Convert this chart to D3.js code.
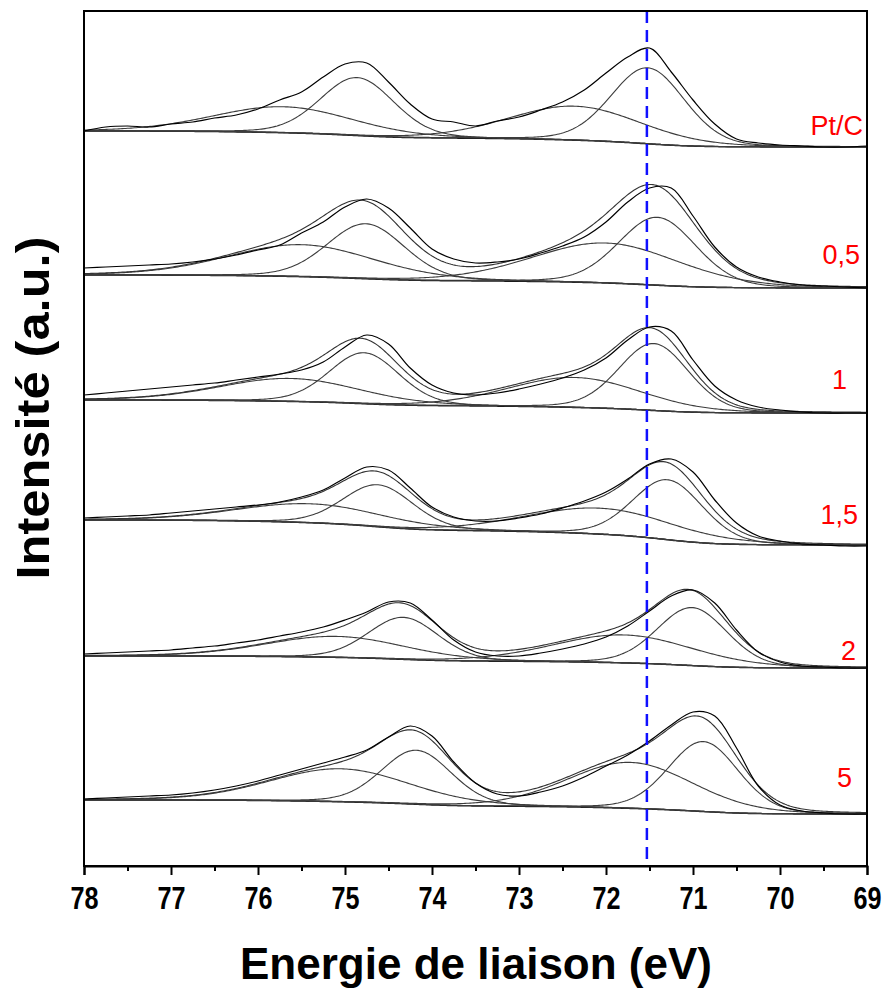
<!DOCTYPE html>
<html><head><meta charset="utf-8">
<script src="https://cdn.jsdelivr.net/npm/d3@7"></script>
<style>body{margin:0;background:#fff}svg{display:block}</style>
</head><body>
<svg id="chart" width="889" height="989"></svg>
<script>
// ---------------- DATA ----------------
const samples = ["Pt/C", "0,5", "1", "1,5", "2", "5"];
// measured spectra, binding energies 78 -> 69 eV every 0.25 eV (a.u., stacked)
const energies = d3.range(0, 37).map(k => 78 - k * 0.25);
const raw_PtC = [735,739,740,739,742,744,748,751,757,766,774,789,802,803,784,762,747,744,740,745,749,756,764,776,793,809,818,794,766,742,727,723,721,720,719,719,720];
const raw_05  = [598,599,600,601,602,604,607,611,616,621,633,644,659,667,658,638,617,607,603,604,607,613,620,629,644,664,678,678,650,619,599,589,584,581,580,579,578];
const raw_1   = [471,473,475,477,479,481,483,486,489,492,496,504,519,531,522,498,481,473,471,473,477,482,488,496,508,526,539,535,506,480,466,459,456,454,453,453,453];
const raw_15  = [348,349,350,351,353,355,357,359,361,364,369,376,388,399,396,378,359,349,345,345,348,352,358,365,374,387,402,407,394,366,343,330,325,322,321,320,320];
const raw_2   = [212,213,214,215,216,218,220,223,226,230,234,239,246,254,264,263,246,226,214,210,210,213,217,222,229,240,255,270,276,263,236,214,204,200,199,198,198];
const raw_5   = [67,68,69,70,71,73,76,80,85,91,97,103,109,116,129,140,130,104,83,72,70,74,80,89,100,111,125,141,154,150,118,80,61,55,53,52,52];
const rawSeries = [raw_PtC, raw_05, raw_1, raw_15, raw_2, raw_5];
// Shirley background end levels (a.u.) at 78 eV and at 69 eV
const bgAt78 = [735, 591, 466, 346, 210, 66];
const bgAt69 = [719, 578, 453, 321, 198, 52];
// Pt(0) 4f7/2 component
const pt0_72_center = [71.52, 71.41, 71.45, 71.29, 71.01, 70.88];
const pt0_72_height = [76, 68, 67, 60, 58, 70];
const pt0_72_fwhm   = [1.00, 1.05, 0.95, 0.95, 0.95, 0.95];
// Pt(0) 4f5/2 component
const pt0_52_center = [74.86, 74.76, 74.78, 74.62, 74.33, 74.18];
const pt0_52_height = [58, 55, 51, 42, 42, 54];
const pt0_52_fwhm   = [1.00, 1.05, 0.95, 0.95, 0.95, 0.95];
// Pt(II) 4f7/2 component
const pt2_72_center = [72.36, 72.00, 72.36, 72.07, 71.80, 71.72];
const pt2_72_height = [34, 40, 30, 26, 28, 46];
const pt2_72_fwhm   = [1.80, 2.00, 1.80, 2.00, 1.90, 1.70];
// Pt(II) 4f5/2 component
const pt2_52_center = [75.71, 75.50, 75.63, 75.40, 75.10, 75.05];
const pt2_52_height = [26, 32, 23, 19, 21, 33];
const pt2_52_fwhm   = [1.90, 2.00, 1.90, 2.00, 1.90, 1.90];
// x axis
const xTicks = [78, 77, 76, 75, 74, 73, 72, 71, 70, 69];
const xMinorTicks = [77.5, 76.5, 75.5, 74.5, 73.5, 72.5, 71.5, 70.5, 69.5];
const refLineEnergy = 71.53;
const xTitle = "Energie de liaison (eV)";
const yTitle = "Intensité (a.u.)";

// ---------------- LAYOUT ----------------
const M = {left: 84, right: 867, top: 11, bottom: 866};
const labelLayout = [ // right edge x, baseline y (px)
  [863, 135], [860, 264], [847, 389], [858, 524], [856, 660], [852, 787]
];
const showEnvelope = [false, true, true, true, true, true];
const FONT = "'Liberation Sans', Arial, Helvetica, sans-serif";

const svg = d3.select("#chart");
const x = d3.scaleLinear().domain([78, 69]).range([M.left, M.right]);
const y = d3.scaleLinear().domain([0, 855]).range([M.bottom, M.top]);

// pseudo-Voigt line shape of a fitted component
const GL = 0.15;
function pv(E, c, h, w) {
  const t = (E - c) / w;
  return h * ((1 - GL) * Math.exp(-4 * Math.LN2 * t * t) + GL / (1 + 4 * t * t));
}
const grid = d3.range(69, 78.0001, 0.02);
const line = d3.line().x(d => x(d[0])).y(d => y(d[1]));
const rawLine = d3.line().x(d => x(d[0])).y(d => y(d[1])).curve(d3.curveCatmullRom.alpha(0.5));

const g = svg.append("g");
samples.forEach((name, i) => {
  const comps = [
    [pt0_72_center[i], pt0_72_height[i], pt0_72_fwhm[i]],
    [pt0_52_center[i], pt0_52_height[i], pt0_52_fwhm[i]],
    [pt2_72_center[i], pt2_72_height[i], pt2_72_fwhm[i]],
    [pt2_52_center[i], pt2_52_height[i], pt2_52_fwhm[i]]
  ];
  const sum = grid.map(E => d3.sum(comps, c => pv(E, c[0], c[1], c[2])));
  const cum = [];
  let acc = 0;
  sum.forEach(v => { acc += v; cum.push(acc); });
  const bg = grid.map((E, k) => bgAt69[i] + (bgAt78[i] - bgAt69[i]) * cum[k] / acc);

  const gp = g.append("g");
  gp.append("path").datum(grid.map((E, k) => [E, bg[k]]))
    .attr("d", line).attr("fill", "none").attr("stroke", "#1a1a1a").attr("stroke-width", 1.5);
  comps.forEach(c => {
    gp.append("path").datum(grid.map((E, k) => [E, bg[k] + pv(E, c[0], c[1], c[2])]))
      .attr("d", line).attr("fill", "none").attr("stroke", "#3c3c3c").attr("stroke-width", 1.1);
  });
  if (showEnvelope[i]) {
    gp.append("path").datum(grid.map((E, k) => [E, bg[k] + sum[k]]))
      .attr("d", line).attr("fill", "none").attr("stroke", "#333").attr("stroke-width", 1.1);
  }
  const rs = rawSeries[i];
  gp.append("path").datum(energies.map((E, k) => [E, rs[k]]))
    .attr("d", rawLine).attr("fill", "none")
    .attr("stroke", "#000").attr("stroke-width", 1.2);

  svg.append("text").attr("x", labelLayout[i][0]).attr("y", labelLayout[i][1])
    .attr("text-anchor", "end").attr("fill", "#ff0000")
    .attr("font-family", FONT).attr("font-size", 27)
    .text(name);
});

// dashed reference line
svg.append("line").attr("x1", x(refLineEnergy)).attr("x2", x(refLineEnergy))
  .attr("y1", M.top).attr("y2", M.bottom - 6)
  .attr("stroke", "#1010ff").attr("stroke-width", 2.5).attr("stroke-dasharray", "12,7");

// frame
svg.append("rect").attr("x", M.left).attr("y", M.top)
  .attr("width", M.right - M.left).attr("height", M.bottom - M.top)
  .attr("fill", "none").attr("stroke", "#000").attr("stroke-width", 2);

// bottom axis
const ax = svg.append("g").attr("transform", `translate(0,${M.bottom})`)
  .call(d3.axisBottom(x).tickValues(xTicks).tickSize(9).tickFormat(d3.format("d")));
ax.select(".domain").attr("stroke-width", 2);
ax.selectAll(".tick line").attr("stroke-width", 2);
ax.selectAll("text").attr("font-family", FONT)
  .attr("font-weight", "bold").attr("font-size", 32).attr("fill", "#000")
  .attr("y", 43).attr("dy", null)
  .attr("textLength", 28).attr("lengthAdjust", "spacingAndGlyphs");
const axm = svg.append("g").attr("transform", `translate(0,${M.bottom})`)
  .call(d3.axisBottom(x).tickValues(xMinorTicks).tickSize(5).tickFormat(""));
axm.select(".domain").remove();
axm.selectAll(".tick line").attr("stroke-width", 2);

// titles
svg.append("text").attr("x", 476).attr("y", 979)
  .attr("text-anchor", "middle").attr("font-family", FONT)
  .attr("font-weight", "bold").attr("font-size", 44)
  .attr("textLength", 472).attr("lengthAdjust", "spacingAndGlyphs").text(xTitle);
svg.append("text").attr("transform", "translate(49,408) rotate(-90)")
  .attr("text-anchor", "middle").attr("font-family", FONT)
  .attr("font-weight", "bold").attr("font-size", 46)
  .attr("textLength", 343).attr("lengthAdjust", "spacingAndGlyphs").text(yTitle);
</script>
</body></html>
